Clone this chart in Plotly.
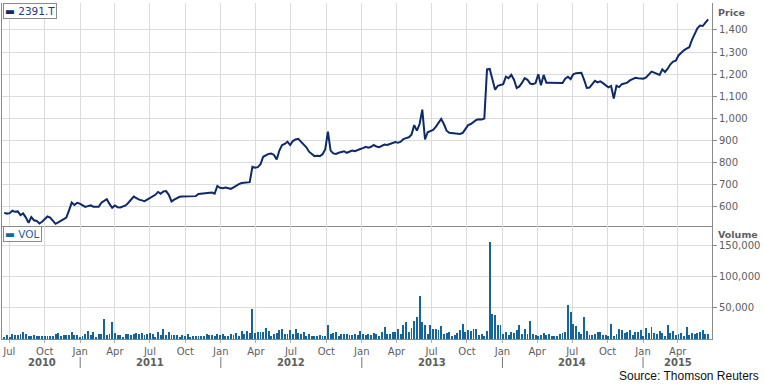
import datetime as dt
import plotly.graph_objects as go

# ---------------- data ----------------
start_date = dt.date(2010, 6, 18)  # first weekly observation

price = [
    574, 570, 572, 583, 578, 580, 563, 571, 552, 528,
    554, 540, 537, 525, 533, 545, 557, 552, 540, 524,
    530, 538, 544, 552, 585, 620, 609, 619, 615, 608,
    600, 604, 607, 601, 601, 601, 619, 627, 635, 614,
    596, 607, 599, 598, 602, 607, 619, 634, 647, 640,
    633, 630, 626, 633, 640, 646, 655, 668, 660, 670,
    672, 655, 625, 633, 640, 646, 647, 647, 646, 647,
    648, 649, 659, 660, 661, 662, 662, 665, 660, 695,
    687, 685, 688, 686, 682, 689, 697, 703, 708, 710,
    712, 712, 782, 778, 780, 793, 827, 835, 840, 842,
    835, 815, 855, 880, 885, 895, 880, 898, 905, 908,
    895, 885, 870, 850, 838, 830, 832, 830, 838, 860,
    940, 855, 842, 840, 845, 848, 852, 845, 850, 855,
    852, 858, 862, 866, 872, 868, 872, 880, 873, 870,
    876, 882, 880, 886, 889, 893, 890, 895, 907, 911,
    915, 927, 970, 945, 975, 1040, 905, 938, 942, 948,
    962, 982, 998, 975, 945, 935, 933, 932, 932, 930,
    935, 950, 970, 975, 983, 993, 996, 995, 1000, 1222,
    1224, 1180, 1130, 1148, 1151, 1155, 1189, 1182, 1197, 1175,
    1138, 1145, 1162, 1182, 1175, 1158, 1155, 1160, 1200, 1150,
    1197, 1162, 1162, 1162, 1160, 1160, 1160, 1160, 1180, 1189,
    1178, 1200, 1205, 1206, 1207, 1175, 1138, 1140, 1155, 1170,
    1163, 1168, 1160, 1150, 1141, 1147, 1090, 1148, 1142, 1155,
    1160, 1162, 1172, 1180, 1184, 1182, 1180, 1180, 1186, 1200,
    1212, 1207, 1202, 1197, 1222, 1210, 1225, 1245, 1257, 1261,
    1285, 1298, 1308, 1316, 1322, 1355, 1385, 1408, 1420, 1418,
    1433, 1448,
]

volume_k = [
    4, 6, 3, 8, 6, 6, 8, 11, 8, 5,
    4.7, 6, 4.7, 4.7, 4.7, 4.7, 4.7, 4.7, 4.7, 8,
    9.5, 4.7, 6, 6, 6, 11, 6, 6, 4, 5,
    8, 12.6, 6, 11, 4, 8, 8, 33, 6, 8,
    28, 9.5, 6, 6, 4, 8, 8, 6, 8, 9.5,
    8, 9.5, 6, 8, 9.5, 8, 4, 11, 6, 16,
    6, 11, 6, 6, 6, 4, 6, 5, 8, 4,
    5, 5, 5, 5, 5, 8, 6, 6, 5, 8,
    6, 8, 5, 5, 8, 6, 9, 5, 13, 8,
    13, 9, 49, 9.5, 11, 11, 11, 17, 12.6, 4.7,
    8, 9.5, 14, 16, 8, 8, 14, 8, 16, 9.5,
    8, 11, 4.7, 8, 4.7, 4.7, 4.7, 6, 4.7, 4.7,
    22, 8, 9.5, 11, 4.7, 8, 8, 8, 6, 6,
    8, 6, 12.6, 7.9, 6.3, 7.9, 6.3, 9.5, 7.9, 4.7,
    11, 20, 7.9, 7.9, 11, 11, 15.8, 7.9, 22, 27,
    11, 17.4, 29, 36, 69, 27, 22, 7.9, 22, 15.8,
    15.8, 14, 20.5, 7.9, 9.5, 11, 4.7, 6.3, 9.5, 14,
    23.7, 11, 14, 12.6, 15.8, 15.8, 6.3, 7.9, 4.7, 12.6,
    156, 39.5, 38, 22, 22, 7.9, 11, 6.3, 11, 9.5,
    14, 22, 7.9, 15.8, 7.9, 28.4, 7.9, 6.3, 4.7, 6.3,
    9.5, 6.3, 7.9, 4.7, 4.7, 4.7, 7.9, 9.5, 11, 55,
    44, 23.7, 20.5, 11, 7.9, 36, 12.6, 6.3, 6.3, 7.9,
    11, 11, 6.3, 6.3, 4.7, 23.7, 4.7, 7.9, 15.8, 14,
    9.5, 11, 14, 6.3, 11, 11, 14, 4.7, 17.4, 9.5,
    19, 9.5, 7.9, 12.6, 9.5, 4.7, 22, 9.5, 12.6, 6.3,
    7.9, 9.5, 4.7, 19, 6.3, 9.5, 7.9, 9.5, 11, 14,
    7.9, 7.9,
]

tick_dates = [
    "2010-07-01", "2010-10-01", "2011-01-01", "2011-04-01", "2011-07-01",
    "2011-10-01", "2012-01-01", "2012-04-01", "2012-07-01", "2012-10-01",
    "2013-01-01", "2013-04-01", "2013-07-01", "2013-10-01", "2014-01-01",
    "2014-04-01", "2014-07-01", "2014-10-01", "2015-01-01", "2015-04-01",
]
tick_labels = ["Jul", "Oct", "Jan", "Apr"] * 5
years = ["2010", "2011", "2012", "2013", "2014", "2015"]
year_centers = ["2010-09-25", "2011-07-01", "2012-07-01", "2013-07-01",
                "2014-07-01", "2015-04-01"]
year_breaks = ["2011-01-01", "2012-01-01", "2013-01-01", "2014-01-01", "2015-01-01"]

price_ticks = [600, 700, 800, 900, 1000, 1100, 1200, 1300, 1400]
volume_ticks = [50000, 100000, 150000]

x_range = ["2010-06-12", "2015-06-29"]
price_range = [514, 1522]
volume_range = [0, 182000]

# ---------------- build ----------------
n = min(len(price), len(volume_k))
dates = [start_date + dt.timedelta(days=7 * i) for i in range(n)]
volume = [v * 1000 for v in volume_k[:n]]

LINE = "#0d2a6b"
BAR = "#15649a"
GRID = "#dcdcdc"
AXIS = "#8a8a8a"
TXT = "#5e5e5e"
FONT = "DejaVu Sans"

fig = go.Figure()
fig.add_trace(go.Scatter(x=dates, y=price[:n], mode="lines",
                         line=dict(color=LINE, width=2), xaxis="x", yaxis="y",
                         showlegend=False))
fig.add_trace(go.Bar(x=dates, y=volume, marker=dict(color=BAR, line=dict(width=0)),
                     width=86400000 * 2.4, xaxis="x2", yaxis="y2",
                     showlegend=False))

split = (339 - 226) / 336.0

common_x = dict(type="date", range=x_range, tickvals=tick_dates, ticktext=tick_labels,
                showgrid=True, gridcolor=GRID, gridwidth=1, showline=True,
                linecolor=AXIS, linewidth=1, mirror=False, zeroline=False)

fig.update_layout(
    width=765, height=385,
    margin=dict(l=2, r=53, t=3, b=46),
    paper_bgcolor="white", plot_bgcolor="white",
    font=dict(family=FONT, size=10, color=TXT),
    bargap=0,
    xaxis=dict(common_x, anchor="y", showticklabels=False, ticks=""),
    xaxis2=dict(common_x, anchor="y2", matches="x", showticklabels=True,
                ticks="outside", ticklen=3, tickcolor="#b0b0b0",
                tickfont=dict(family=FONT, size=10, color=TXT)),
    yaxis=dict(domain=[split, 1], range=price_range, side="right",
               tickvals=price_ticks, tickformat=",d", showgrid=True,
               gridcolor=GRID, showline=True, linecolor=AXIS, mirror=True,
               ticks="outside", ticklen=4, tickcolor=AXIS, zeroline=False,
               tickfont=dict(family=FONT, size=10, color=TXT)),
    yaxis2=dict(domain=[0, split], range=volume_range, side="right",
                tickvals=volume_ticks, tickformat=",d", showgrid=True,
                gridcolor=GRID, showline=True, linecolor=AXIS, mirror=True,
                ticks="outside", ticklen=4, tickcolor=AXIS, zeroline=False,
                tickfont=dict(family=FONT, size=10, color=TXT)),
    showlegend=False,
)

ann = []
# legend boxes
ann.append(dict(xref="paper", yref="paper", x=0.0015, y=1.0, xanchor="left", yanchor="top",
                text=f"<span style='color:{LINE}'>▬</span> 2391.T", showarrow=False,
                font=dict(family=FONT, size=10.5, color="#1f3c88"),
                bgcolor="white", bordercolor=AXIS, borderwidth=1, borderpad=1))
ann.append(dict(xref="paper", yref="paper", x=0.0015, y=split, xanchor="left", yanchor="top",
                text=f"<span style='color:{BAR}'>▬</span> VOL", showarrow=False,
                font=dict(family=FONT, size=10.5, color="#1f5f99"),
                bgcolor="white", bordercolor=AXIS, borderwidth=1, borderpad=1))
# axis titles
ann.append(dict(xref="paper", yref="paper", x=(716 - 2) / 710, y=(339 - 12) / 336,
                xanchor="left", yanchor="middle", text="<b>Price</b>", showarrow=False,
                font=dict(family=FONT, size=9.5, color=TXT)))
ann.append(dict(xref="paper", yref="paper", x=(716 - 2) / 710, y=(339 - 234) / 336,
                xanchor="left", yanchor="middle", text="<b>Volume</b>", showarrow=False,
                font=dict(family=FONT, size=9.5, color=TXT)))
# year labels
for yr, xc in zip(years, year_centers):
    ann.append(dict(xref="x2", yref="paper", x=xc, y=(339 - 362.5) / 336,
                    xanchor="center", yanchor="middle", text=f"<b>{yr}</b>",
                    showarrow=False, font=dict(family=FONT, size=10, color=TXT)))
# source
ann.append(dict(xref="paper", yref="paper", x=(761 - 2) / 710, y=(339 - 376) / 336,
                xanchor="right", yanchor="middle", text="Source: Thomson Reuters",
                showarrow=False, font=dict(family="Liberation Sans", size=12, color="#111")))

shapes = []
for yb in year_breaks:
    shapes.append(dict(type="line", xref="x2", yref="paper", x0=yb, x1=yb,
                       y0=(339 - 357) / 336, y1=(339 - 368) / 336,
                       line=dict(color="#777", width=1)))

fig.update_layout(annotations=ann, shapes=shapes)
fig.write_html("out.html", config={"displayModeBar": False},
               post_script="document.body.style.margin='0px';document.body.style.padding='0px';")
